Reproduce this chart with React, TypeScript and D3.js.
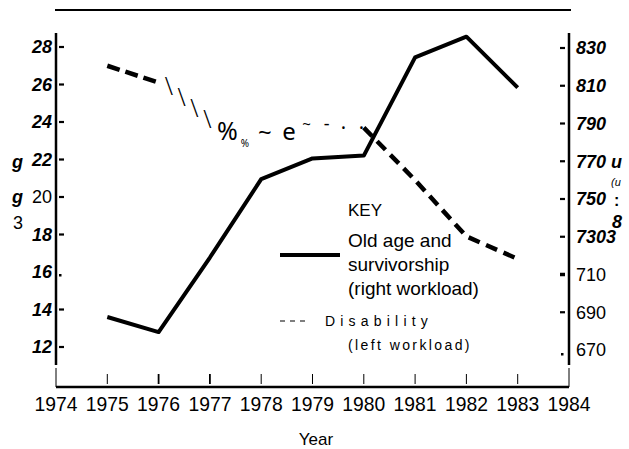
import React from 'react';
import * as d3 from 'd3';

// values
const years = [1975, 1976, 1977, 1978, 1979, 1980, 1981, 1982, 1983];
const oldAge = [687.5, 679.5, 719, 760.5, 771.5, 773, 825, 836, 809]; // right axis
const disability = [27.0, 26.1, 23.8, 23.5, 23.6, 23.7, 20.9, 17.9, 16.7]; // left axis

const xTickYears = d3.range(1974, 1985);
const leftTicks = [12, 14, 16, 18, 20, 22, 24, 26, 28];
const rightTicks = [670, 690, 710, 730, 750, 770, 790, 810, 830];
const rightTickText: Record<number, string> = { 730: '7303' };
const leftPlain = [20];
const rightPlain = [670, 690, 710];

// scanner glyphs that stand in for the dashed line between 1977 and 1980
const glyphs = [
  { t: '%', yr: 1977.14, y: 140, size: 25 },
  { t: '%', yr: 1977.6, y: 147, size: 10 },
  { t: '~', yr: 1977.94, y: 141, size: 24 },
  { t: 'e', yr: 1978.41, y: 140, size: 24 },
  { t: '~', yr: 1978.8, y: 129, size: 15 },
  { t: '-', yr: 1979.22, y: 130, size: 18 },
  { t: '·', yr: 1979.55, y: 135, size: 20 },
  { t: '·', yr: 1979.9, y: 135, size: 20 },
];

const W = 629;
const H = 449;

export default function App() {
  const x = d3.scaleLinear().domain([1974, 1984]).range([56, 569]);
  const yL = d3.scaleLinear().domain([12, 28]).range([347, 47]);
  const yR = d3.scaleLinear().domain([670, 830]).range([350, 48]);

  const solid = d3
    .line<number>()
    .x((_, i) => x(years[i]))
    .y((d) => yR(d));

  const dashed = d3
    .line<[number, number]>()
    .x((d) => x(d[0]))
    .y((d) => yL(d[1]));

  const pairs = years.map((yr, i) => [yr, disability[i]] as [number, number]);
  const dashStart = pairs.slice(0, 2);
  const dashEnd = pairs.slice(5);

  // backslash glyphs along 1976 -> 1977
  const a = pairs[1];
  const b = pairs[2];
  const slashes = [0.2, 0.45, 0.7, 0.95].map((t) => ({
    cx: x(a[0]) + (x(b[0]) - x(a[0])) * t,
    cy: yL(a[1]) + (yL(b[1]) - yL(a[1])) * t - 6,
  }));

  const sans = "'Liberation Sans', Arial, sans-serif";

  return (
    <svg
      width={W}
      height={H}
      style={{ position: 'absolute', left: 0, top: 0, background: '#fff' }}
      fontFamily={sans}
    >
      {/* top rule */}
      <line x1={55} x2={571} y1={10} y2={10} stroke="#000" strokeWidth={2.2} />

      {/* axis lines */}
      <line x1={x(1974)} x2={x(1974)} y1={33} y2={365} stroke="#000" strokeWidth={2.5} />
      <line x1={x(1984)} x2={x(1984)} y1={33} y2={365} stroke="#000" strokeWidth={2.5} />
      <line x1={x(1974)} x2={x(1984)} y1={387} y2={387} stroke="#000" strokeWidth={2.5} />

      {/* x ticks */}
      {xTickYears.map((yr) => {
        const edge = yr === 1974 || yr === 1984;
        const heavy = yr === 1976 || yr === 1977;
        return (
          <g key={yr}>
            <line
              x1={x(yr)}
              x2={x(yr)}
              y1={edge ? 368 : 374}
              y2={edge ? 387 : 384}
              stroke="#000"
              strokeWidth={heavy ? 1.8 : 1}
            />
            <text
              x={x(yr) - 21.5}
              y={411}
              fontSize={21}
              textLength={43}
              lengthAdjust="spacingAndGlyphs"
            >
              {yr}
            </text>
          </g>
        );
      })}
      <text x={316} y={445} fontSize={17} textAnchor="middle">
        Year
      </text>

      {/* left axis ticks */}
      {leftTicks.map((v) => {
        const plain = leftPlain.includes(v);
        return (
          <g key={v}>
            {v === 16 ? (
              <rect x={59} y={yL(v) + 2} width={2.5} height={2.5} fill="#000" />
            ) : (
              <line x1={59} x2={64} y1={yL(v)} y2={yL(v)} stroke="#000" strokeWidth={2.2} />
            )}
            <text
              x={52}
              y={yL(v)}
              dy="0.36em"
              fontSize={18}
              textAnchor="end"
              fontWeight={plain ? 'normal' : 'bold'}
              fontStyle={plain ? 'normal' : 'italic'}
            >
              {v}
            </text>
          </g>
        );
      })}
      <text x={12} y={yL(22) + 8} fontSize={18} fontWeight="bold" fontStyle="italic">g</text>
      <text x={12} y={yL(20) + 6} fontSize={18} fontWeight="bold" fontStyle="italic">g</text>
      <text x={13} y={229} fontSize={18}>3</text>

      {/* right axis ticks */}
      {rightTicks.map((v) => {
        const plain = rightPlain.includes(v);
        return (
          <g key={v}>
            {v === 670 ? (
              <rect x={561} y={yR(v) + 3} width={2.5} height={2.5} fill="#000" />
            ) : (
              <line
                x1={560}
                x2={565}
                y1={yR(v)}
                y2={yR(v)}
                stroke="#000"
                strokeWidth={v === 710 ? 3.5 : 2.2}
              />
            )}
            <text
              x={576}
              y={yR(v)}
              dy="0.36em"
              fontSize={18}
              fontWeight={plain ? 'normal' : 'bold'}
              fontStyle={plain ? 'normal' : 'italic'}
            >
              {rightTickText[v] ?? v}
            </text>
          </g>
        );
      })}
      <text x={611} y={168} fontSize={18} fontWeight="bold" fontStyle="italic">u</text>
      <text x={611} y={186} fontSize={11} fontStyle="italic">(u</text>
      <text x={614} y={206} fontSize={16} fontWeight="bold">:</text>
      <text x={612} y={228} fontSize={18} fontWeight="bold" fontStyle="italic">8</text>

      {/* old age and survivorship (solid, right axis) */}
      <path d={solid(oldAge) ?? ''} fill="none" stroke="#000" strokeWidth={4} strokeLinejoin="round" />

      {/* disability (dashed, left axis) */}
      <path
        d={dashed(dashStart) ?? ''}
        fill="none"
        stroke="#000"
        strokeWidth={4.5}
        strokeDasharray="13 6"
      />
      <path
        d={dashed(dashEnd) ?? ''}
        fill="none"
        stroke="#000"
        strokeWidth={4.5}
        strokeDasharray="12 7"
      />
      {slashes.map((s, i) => (
        <text
          key={i}
          x={s.cx}
          y={s.cy + 10}
          fontSize={28}
          textAnchor="middle"
          fontFamily="'Liberation Serif', serif"
        >
          {'\\'}
        </text>
      ))}
      {glyphs.map((g, i) => (
        <text key={i} x={x(g.yr)} y={g.y} fontSize={g.size} fontFamily="'Noto Sans', sans-serif">
          {g.t}
        </text>
      ))}

      {/* key */}
      <text x={348} y={216} fontSize={17}>KEY</text>
      <line x1={280} x2={340} y1={255} y2={255} stroke="#000" strokeWidth={4} />
      <text x={348} y={247} fontSize={19}>Old age and</text>
      <text x={348} y={271} fontSize={19}>survivorship</text>
      <text x={348} y={295} fontSize={19}>(right workload)</text>
      <line x1={280} x2={306} y1={321} y2={321} stroke="#000" strokeWidth={1.2} strokeDasharray="5 5" />
      <text x={325} y={326} fontSize={14} letterSpacing={5.2}>Disability</text>
      <text x={348} y={350} fontSize={14} letterSpacing={2.4}>(left workload)</text>
    </svg>
  );
}
